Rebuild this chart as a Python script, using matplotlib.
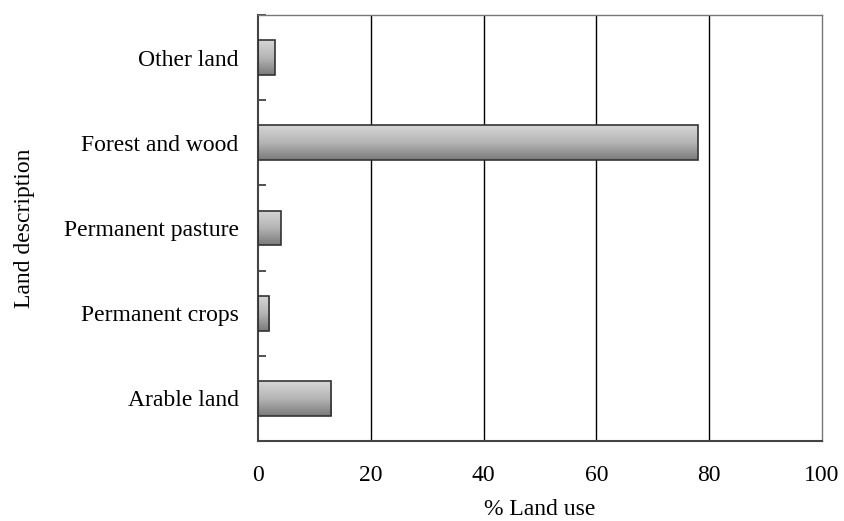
import matplotlib
matplotlib.use("Agg")
import matplotlib.pyplot as plt
import numpy as np
from matplotlib.colors import LinearSegmentedColormap

categories = ["Arable land", "Permanent crops", "Permanent pasture", "Forest and wood", "Other land"]
values = [13, 2, 4, 78, 3]
xticks = [0, 20, 40, 60, 80, 100]

plt.rcParams['font.family'] = ['Liberation Serif', 'DejaVu Serif']
FS = 17

fig = plt.figure(figsize=(8.44, 5.21), dpi=100)
ax = fig.add_axes([258/844, 1-441/521, (822-258)/844, (441-15)/521])

y = np.arange(len(categories))
h = 0.41
bars = ax.barh(y, values, height=h, facecolor='none', edgecolor='#333333', linewidth=1.2, zorder=3)

cmap = LinearSegmentedColormap.from_list('g', ['#d6d6d6', '#b5b5b5', '#7a7a7a'])
grad = np.linspace(0, 1, 256).reshape(-1, 1)
for b in bars:
    x0, y0 = b.get_x(), b.get_y()
    w, hh = b.get_width(), b.get_height()
    im = ax.imshow(grad, cmap=cmap, aspect='auto', extent=[x0, x0 + w, y0, y0 + hh],
                   origin='upper', zorder=2)
    im.set_clip_path(b)

ax.set_xlim(0, 100)
ax.set_ylim(-0.5, len(categories) - 0.5)
ax.set_xticks(xticks)
ax.set_xticklabels([str(t) for t in xticks], fontsize=FS)
ax.tick_params(axis='x', length=0, pad=17)
ax.set_yticks(y)
ax.set_yticklabels(categories, fontsize=FS)
ax.tick_params(axis='y', which='major', length=0, pad=14)
ax.set_yticks(np.arange(-0.5, len(categories), 1.0), minor=True)
ax.tick_params(axis='y', which='minor', direction='in', length=6, width=1.2, color='#333333')

for t in xticks[1:-1]:
    ax.axvline(t, color='black', linewidth=1.0, zorder=1)

for s in ['left', 'bottom']:
    ax.spines[s].set_color('#444444')
    ax.spines[s].set_linewidth(1.5)
for s in ['top', 'right']:
    ax.spines[s].set_color('#777777')
    ax.spines[s].set_linewidth(1.0)

ax.set_xlabel('% Land use', fontsize=FS)
ax.xaxis.set_label_coords(0.5, -0.136)
ax.set_ylabel('Land description', fontsize=FS)
ax.yaxis.set_label_coords(-0.396, 0.5)

fig.savefig('out.png', dpi=100)
